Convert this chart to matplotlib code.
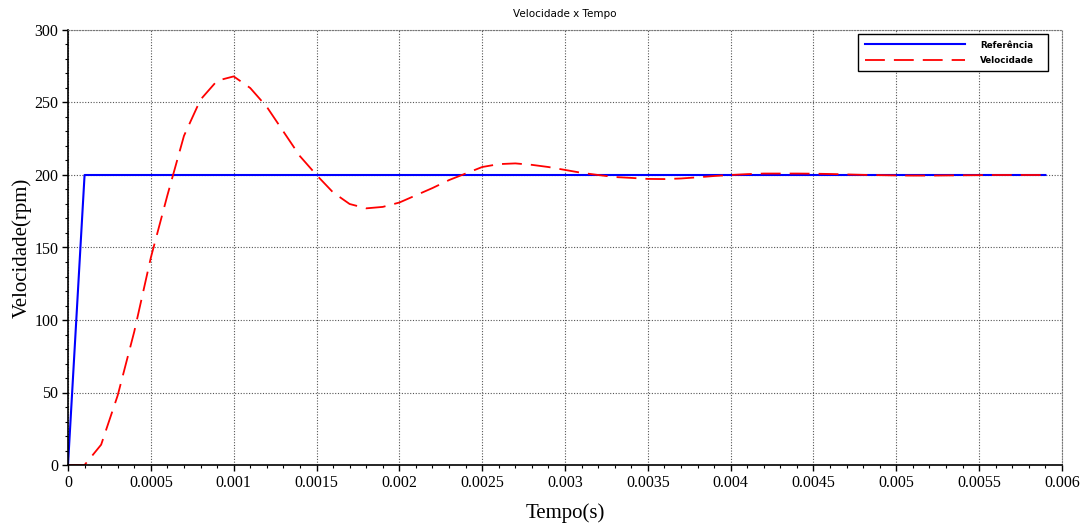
import matplotlib
matplotlib.use("Agg")
import matplotlib.pyplot as plt
from matplotlib.ticker import MultipleLocator

# Data
ref_t = [0.0, 0.0001, 0.0059]
ref_v = [0.0, 200.0, 200.0]

vel_t = [i * 0.0001 for i in range(60)]
vel_v = [0, 0, 14, 48, 92, 143, 186, 227, 252, 265,
         268, 260, 247, 230, 213, 200, 188, 180, 177, 178,
         181, 186, 191, 196.5, 201, 205.5, 207.5, 208, 207, 205.5,
         203.5, 201.5, 200, 198.6, 198, 197.3, 197.2, 197.6, 198.4, 199.3,
         200, 200.6, 201, 201, 201, 200.9, 200.7, 200.4, 200.1, 199.9,
         199.7, 199.6, 199.6, 199.7, 199.8, 199.9, 200, 200, 200, 200]

x_ticks = [0, 0.0005, 0.001, 0.0015, 0.002, 0.0025, 0.003, 0.0035, 0.004, 0.0045, 0.005, 0.0055, 0.006]
x_labels = ["0", "0.0005", "0.001", "0.0015", "0.002", "0.0025", "0.003", "0.0035", "0.004", "0.0045", "0.005", "0.0055", "0.006"]
y_ticks = [0, 50, 100, 150, 200, 250, 300]

W, H = 1083, 523
fig = plt.figure(figsize=(W / 100, H / 100), dpi=100)
ax = fig.add_axes([68 / W, 58 / H, (1062 - 68) / W, (465 - 30) / H])

ax.plot(ref_t, ref_v, color="#0000ff", lw=1.5, label="Referência")
ax.plot(vel_t, vel_v, color="#ff0000", lw=1.3, ls=(0, (11, 5)), label="Velocidade")

ax.set_xlim(0, 0.006)
ax.set_ylim(0, 300)
ax.set_xticks(x_ticks)
ax.set_xticklabels(x_labels)
ax.set_yticks(y_ticks)
ax.xaxis.set_minor_locator(MultipleLocator(0.0001))
ax.yaxis.set_minor_locator(MultipleLocator(10))

serif = "Liberation Serif"
for lab in ax.get_xticklabels() + ax.get_yticklabels():
    lab.set_fontfamily(serif)
    lab.set_fontsize(11.5)
ax.tick_params(which="major", length=4, width=1, direction="out", pad=3)
ax.tick_params(which="minor", length=2.5, width=0.8, direction="out")

ax.grid(True, which="major", color="#555555", ls=(0, (1, 1.5)), lw=0.8)
ax.set_axisbelow(True)

for s in ["top", "right"]:
    ax.spines[s].set_linestyle((0, (1, 1.5)))
    ax.spines[s].set_color("#777777")
    ax.spines[s].set_linewidth(0.8)
for s in ["left", "bottom"]:
    ax.spines[s].set_color("black")
    ax.spines[s].set_linewidth(1.2)

ax.set_xlabel("Tempo(s)", fontfamily=serif, fontsize=15, labelpad=9)
ax.set_ylabel("Velocidade(rpm)", fontfamily=serif, fontsize=15, labelpad=1.5)
ax.set_title("Velocidade x Tempo", fontsize=7.5, fontfamily="DejaVu Sans", pad=9)

leg = fig.legend(loc="upper left",
                 bbox_to_anchor=(858 / W, 1 - 34 / H, 190 / W, 0.0001),
                 bbox_transform=fig.transFigure, mode="expand",
                 prop={"family": "DejaVu Sans", "size": 6.3, "weight": "semibold"},
                 frameon=True, fancybox=False, handlelength=11.5, handletextpad=1.7,
                 borderpad=0.75, labelspacing=0.7, borderaxespad=0)
leg.get_frame().set_edgecolor("black")
leg.get_frame().set_linewidth(1.0)
leg.get_frame().set_alpha(1)

fig.savefig("out.png", dpi=100)
